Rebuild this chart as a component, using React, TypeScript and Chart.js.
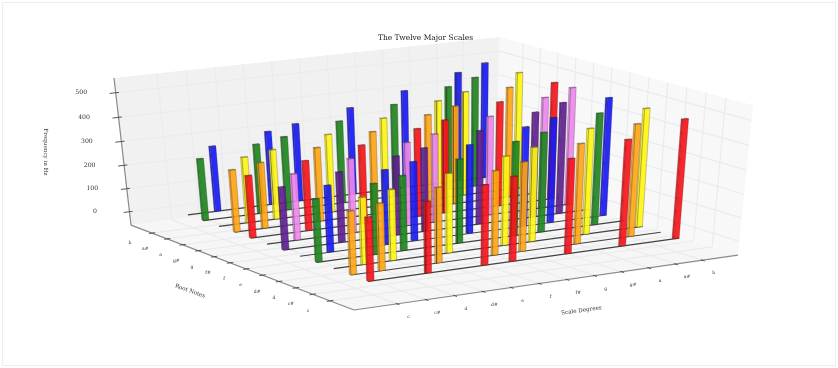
import React, { useEffect, useRef } from "react";
import { Chart, registerables } from "chart.js";

Chart.register(...registerables);

const scaleDegrees = ["c", "c#", "d", "d#", "e", "f", "f#", "g", "g#", "a", "a#", "b"];
const rootNotes = ["c", "c#", "d", "d#", "e", "f", "f#", "g", "g#", "a", "a#", "b"];
const frequencyTicks = [0, 100, 200, 300, 400, 500];

const cMajor = [261.63, 0, 293.66, 0, 329.63, 349.23, 0, 392.0, 0, 440.0, 0, 493.88];
const cSharpMajor = [261.63, 277.18, 0, 311.13, 0, 349.23, 369.99, 0, 415.3, 0, 466.16, 0];
const dMajor = [0, 277.18, 293.66, 0, 329.63, 0, 369.99, 392.0, 0, 440.0, 0, 493.88];
const dSharpMajor = [261.63, 0, 293.66, 311.13, 0, 349.23, 0, 392.0, 415.3, 0, 466.16, 0];
const eMajor = [0, 277.18, 0, 311.13, 329.63, 0, 369.99, 0, 415.3, 440.0, 0, 493.88];
const fMajor = [261.63, 0, 293.66, 0, 329.63, 349.23, 0, 392.0, 0, 440.0, 466.16, 0];
const fSharpMajor = [0, 277.18, 0, 311.13, 0, 349.23, 369.99, 0, 415.3, 0, 466.16, 493.88];
const gMajor = [261.63, 0, 293.66, 0, 329.63, 0, 369.99, 392.0, 0, 440.0, 0, 493.88];
const gSharpMajor = [261.63, 277.18, 0, 311.13, 0, 349.23, 0, 392.0, 415.3, 0, 466.16, 0];
const aMajor = [0, 277.18, 293.66, 0, 329.63, 0, 369.99, 0, 415.3, 440.0, 0, 493.88];
const aSharpMajor = [261.63, 0, 293.66, 311.13, 0, 349.23, 0, 392.0, 0, 440.0, 466.16, 0];
const bMajor = [0, 277.18, 0, 311.13, 329.63, 0, 369.99, 0, 415.3, 0, 466.16, 493.88];
const scales = [cMajor, cSharpMajor, dMajor, dSharpMajor, eMajor, fMajor, fSharpMajor, gMajor, gSharpMajor, aMajor, aSharpMajor, bMajor];

const rowColours = [
  [250, 20, 25], [255, 165, 20], [255, 245, 20], [30, 135, 30], [25, 25, 245], [95, 30, 145],
  [238, 135, 238], [250, 20, 25], [255, 165, 20], [255, 245, 20], [30, 135, 30], [25, 25, 245],
];

// Camera fitted to the box corners of the 3D axes.
function project(u: number, v: number, w: number) {
  const d = 1 + 0.05737 * u + 0.08623 * v - 0.05386 * w;
  return {
    x: (354 + 426.3 * u - 211.7 * v - 24.6 * w) / d,
    y: (310 - 40.3 * u - 65.5 * v - 164.0 * w) / d,
  };
}
const uOf = (i: number) => 0.1066 + 0.0723 * i;
const vOf = (j: number) => 0.0999 + 0.0726 * j;
const wOf = (z: number) => 0.095 + 0.001618 * z;
const BAR_DX = 0.2;
const BAR_DY = 0.1;
const BAR_X0 = -0.14;
const BAR_ALPHA = 0.92;

function makeDatasets() {
  const out: any[] = [];
  const poly = (pts: number[][], fill: string | null, stroke: string, width: number) => {
    const data = pts.map((p) => project(p[0], p[1], p[2]));
    if (fill) data.push(data[0]);
    out.push({
      data,
      showLine: true,
      pointRadius: 0,
      borderColor: stroke,
      borderWidth: width,
      borderJoinStyle: "round",
      polyFill: fill,
      tension: 0,
      clip: false,
    });
  };
  // panes
  poly([[0, 1, 0], [1, 1, 0], [1, 1, 1], [0, 1, 1]], "#f1f1f1", "rgba(0,0,0,0)", 0);
  poly([[1, 0, 0], [1, 1, 0], [1, 1, 1], [1, 0, 1]], "#f8f8f8", "rgba(0,0,0,0)", 0);
  poly([[0, 0, 0], [1, 0, 0], [1, 1, 0], [0, 1, 0]], "#f6f6f6", "rgba(0,0,0,0)", 0);
  // grid
  const grid = "#ebebeb";
  scaleDegrees.forEach((_, i) => {
    const u = uOf(i);
    poly([[u, 0, 0], [u, 1, 0]], null, grid, 1.2);
    poly([[u, 1, 0], [u, 1, 1]], null, grid, 1.2);
  });
  rootNotes.forEach((_, j) => {
    const v = vOf(j);
    poly([[0, v, 0], [1, v, 0]], null, grid, 1.2);
    poly([[1, v, 0], [1, v, 1]], null, grid, 1.2);
  });
  frequencyTicks.forEach((z) => {
    const w = wOf(z);
    poly([[0, 1, w], [1, 1, w]], null, grid, 1.2);
    poly([[1, 0, w], [1, 1, w]], null, grid, 1.2);
  });
  // axis lines
  const axis = "#8a8a8a";
  poly([[0, 0, 0], [1, 0, 0]], null, axis, 1.2);
  poly([[0, 0, 0], [0, 1, 0]], null, axis, 1.2);
  poly([[0, 1, 0], [0, 1, 1]], null, axis, 1.2);
  // tick marks
  const tick = "#444444";
  scaleDegrees.forEach((_, i) => poly([[uOf(i), 0.005, 0], [uOf(i), -0.01, 0]], null, tick, 0.9));
  rootNotes.forEach((_, j) => poly([[-0.008, vOf(j), 0], [0.008, vOf(j), 0]], null, tick, 0.9));
  frequencyTicks.forEach((z) => poly([[-0.015, 1, wOf(z)], [0.008, 1, wOf(z)]], null, tick, 0.9));
  // rows, far to near
  for (let j = scales.length - 1; j >= 0; j--) {
    const c = rowColours[j];
    const fill = (k: number) => `rgba(${Math.round(c[0] * k)},${Math.round(c[1] * k)},${Math.round(c[2] * k)},${BAR_ALPHA})`;
    const y0 = vOf(j);
    const y1 = y0 + 0.0726 * BAR_DY;
    const w0 = wOf(0);
    const xa = uOf(BAR_X0);
    const xb = uOf(11 + BAR_X0 + BAR_DX);
    poly([[xa, y0, w0], [xb, y0, w0]], null, "rgba(45,45,45,0.9)", 1.2);
    for (let i = scales[j].length - 1; i >= 0; i--) {
      const value = scales[j][i];
      if (!value) continue;
      const x0 = uOf(i + BAR_X0);
      const x1 = uOf(i + BAR_X0 + BAR_DX);
      const w1 = wOf(value);
      const edge = "rgba(40,40,40,0.5)";
      poly([[x0, y0, w0], [x0, y1, w0], [x0, y1, w1], [x0, y0, w1]], fill(0.95), edge, 0.5);
      poly([[x0, y0, w0], [x1, y0, w0], [x1, y0, w1], [x0, y0, w1]], fill(1), edge, 0.5);
      poly([[x0, y0, w1], [x1, y0, w1], [x1, y1, w1], [x0, y1, w1]], fill(0.9), edge, 0.5);
    }
  }
  const n = out.length;
  out.forEach((d, i) => (d.order = n - i));
  return out;
}

const polyFillPlugin = {
  id: "polyFill",
  beforeDatasetDraw(chart: any, args: any) {
    const ds = chart.data.datasets[args.index];
    if (!ds.polyFill) return;
    const pts = args.meta.data;
    const ctx = chart.ctx;
    ctx.save();
    ctx.beginPath();
    pts.forEach((p: any, i: number) => (i ? ctx.lineTo(p.x, p.y) : ctx.moveTo(p.x, p.y)));
    ctx.closePath();
    ctx.fillStyle = ds.polyFill;
    ctx.fill();
    ctx.restore();
  },
};

const textPlugin = {
  id: "axisText",
  afterDatasetsDraw(chart: any) {
    const ctx = chart.ctx;
    const sx = chart.scales.x;
    const sy = chart.scales.y;
    const at = (p: { x: number; y: number }) => ({ x: sx.getPixelForValue(p.x), y: sy.getPixelForValue(p.y) });
    const text = (s: string, x: number, y: number, font: string, colour: string, angle = 0) => {
      ctx.save();
      ctx.translate(x, y);
      ctx.rotate((angle * Math.PI) / 180);
      ctx.font = font;
      ctx.fillStyle = colour;
      ctx.textAlign = "center";
      ctx.textBaseline = "middle";
      ctx.fillText(s, 0, 0);
      ctx.restore();
    };
    const small = "4.5px 'DejaVu Serif'";
    const mid = "5.6px 'DejaVu Serif'";
    const num = "6.2px 'DejaVu Serif'";
    scaleDegrees.forEach((s, i) => {
      const p = at(project(uOf(i), 0, 0));
      text(s, p.x + 11.5, p.y + 13, small, "#333");
    });
    rootNotes.forEach((s, j) => {
      const p = at(project(0, vOf(j), 0));
      text(s, p.x - 22, p.y + 10, small, "#333");
    });
    frequencyTicks.forEach((z) => {
      const p = at(project(0, 1, wOf(z)));
      text(String(z), p.x - 34.5, p.y, num, "#333");
    });
    text("The Twelve Major Scales", 425.5, 38, "7.5px 'DejaVu Serif'", "#222");
    text("Frequency in Hz", 45, 152, mid, "#333", 90);
    text("Root Notes", 190, 291, mid, "#333", 20);
    text("Scale Degrees", 581.5, 310.5, mid, "#333", -8);
  },
};

export default function App() {
  const ref = useRef<HTMLCanvasElement>(null);
  useEffect(() => {
    const chart = new Chart(ref.current as HTMLCanvasElement, {
      type: "scatter",
      data: { datasets: makeDatasets() },
      plugins: [polyFillPlugin, textPlugin],
      options: {
        animation: false,
        responsive: false,
        events: [],
        layout: { padding: 0 },
        plugins: { legend: { display: false }, tooltip: { enabled: false } },
        scales: {
          x: { type: "linear", min: 0, max: 838, display: false },
          y: { type: "linear", min: 0, max: 368, reverse: true, display: false },
        },
      },
    } as any);
    return () => chart.destroy();
  }, []);
  return (
    <div style={{ position: "fixed", left: 0, top: 0, width: 838, height: 368, background: "#fff" }}>
      <canvas ref={ref} width={838} height={368} style={{ display: "block", filter: "blur(0.35px)" }} />
      <div style={{ position: "absolute", left: 2, top: 2, width: 832, height: 362, border: "1px solid #eeeeee" }} />
    </div>
  );
}
